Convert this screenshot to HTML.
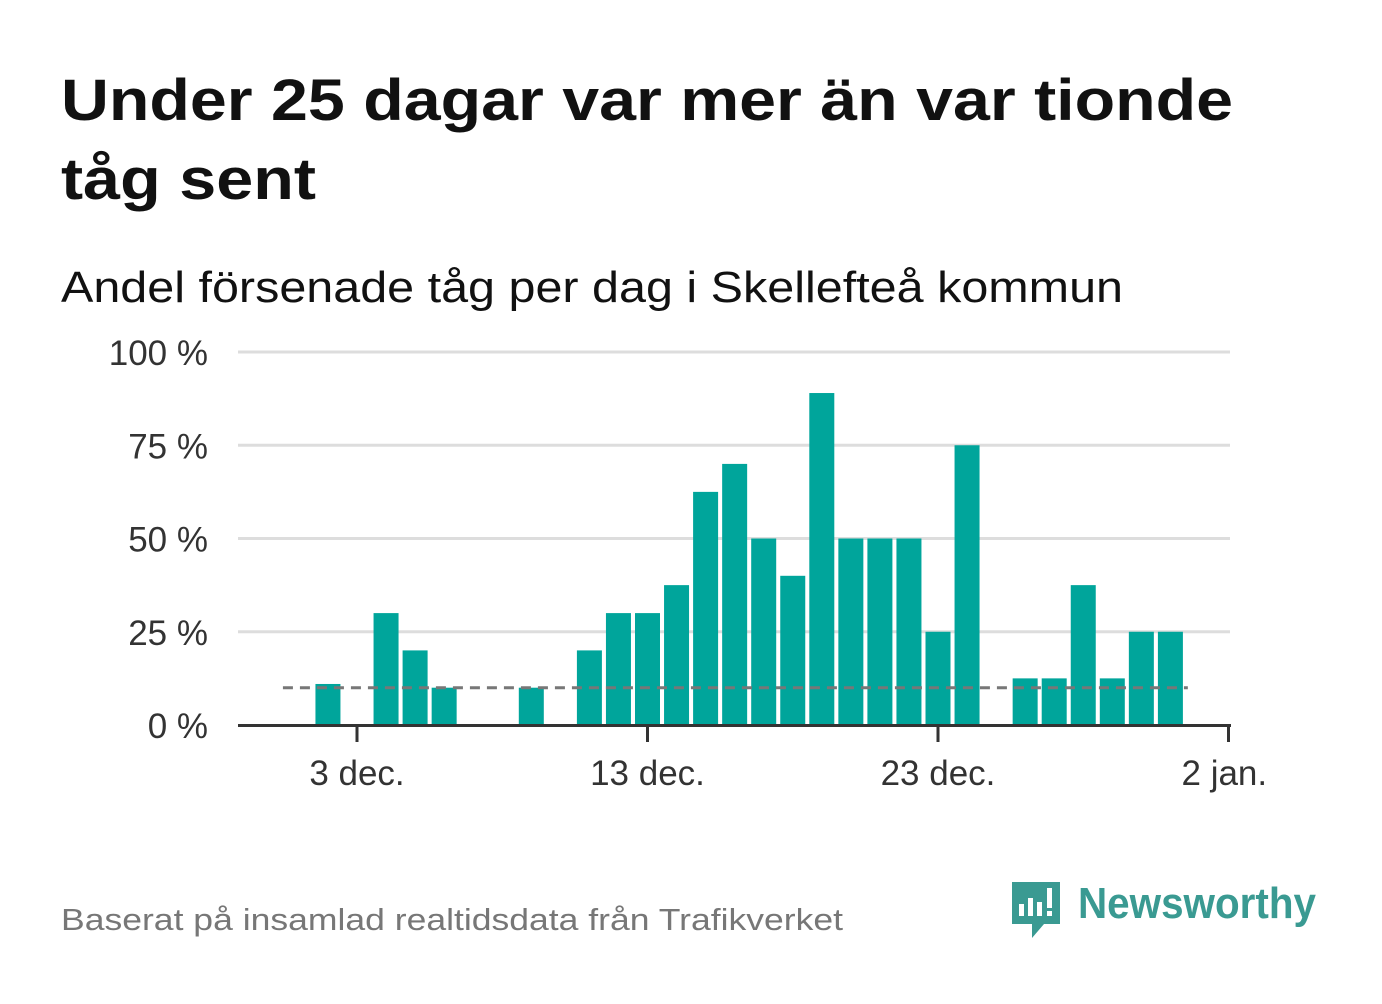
<!DOCTYPE html>
<html><head><meta charset="utf-8"><style>
body{margin:0;background:#fff;width:1382px;height:999px;overflow:hidden;font-family:"Liberation Sans",sans-serif;}
</style></head><body>
<svg width="1382" height="999">
<text x="61" y="120" font-size="58" font-weight="bold" fill="#111" textLength="1172" lengthAdjust="spacingAndGlyphs">Under 25 dagar var mer än var tionde</text>
<text x="61" y="199" font-size="58" font-weight="bold" fill="#111" textLength="255" lengthAdjust="spacingAndGlyphs">tåg sent</text>
<text x="61" y="302" font-size="44" fill="#111" textLength="1062" lengthAdjust="spacingAndGlyphs">Andel försenade tåg per dag i Skellefteå kommun</text>
<g id="grid"></g><g id="bars"></g><g id="axis"></g>
<text x="61" y="930" font-size="31" fill="#777" textLength="782" lengthAdjust="spacingAndGlyphs">Baserat på insamlad realtidsdata från Trafikverket</text>
<g>
<path d="M1012 882h48v42h-16l-12 14v-14h-20z" fill="#3a9a92"/>
<rect x="1019" y="904" width="5" height="12" fill="#fff"/><rect x="1028" y="898" width="5" height="18" fill="#fff"/><rect x="1037" y="902" width="5" height="14" fill="#fff"/><rect x="1047" y="888" width="5" height="20" fill="#fff"/><rect x="1047" y="911" width="5" height="5" fill="#fff"/>
<text x="1078" y="918" font-size="44" font-weight="bold" fill="#3a9a92" textLength="238" lengthAdjust="spacingAndGlyphs">Newsworthy</text>
</g>
</svg>
<script>
const days=[2,4,5,6,9,11,12,13,14,15,16,17,18,19,20,21,22,23,24,26,27,28,29,30,31];
const values=[11,30,20,10,10,20,30,30,37.5,62.5,70,50,40,89,50,50,50,25,75,12.5,12.5,37.5,12.5,25,25];
const yTicks=[0,25,50,75,100];
const xTickDays=[3,13,23,33];
const xTickLabels=["3 dec.","13 dec.","23 dec.","2 jan."];
const refValue=10;
const refStart=0.45, refEnd=31.6;
const NS="http://www.w3.org/2000/svg";
const x=d=>357+(d-3)*29.05;
const y=v=>725-v*3.73;
function mk(p,tag,attrs){const e=document.createElementNS(NS,tag);for(const k in attrs)e.setAttribute(k,attrs[k]);document.getElementById(p).appendChild(e);return e;}
yTicks.forEach(t=>{
 if(t>0){const l=mk('grid','line',{x1:238,x2:1230,y1:y(t),y2:y(t),stroke:'#ddd','stroke-width':3});
 
 }
 const tx=mk('grid','text',{x:208,y:y(t)+13,'font-size':35,fill:'#333','text-anchor':'end'});
 tx.textContent=t+' %';
 
 
});
days.forEach((d,i)=>{
 const r=mk('bars','rect',{x:x(d)-12.5,y:y(values[i]),width:25,height:725-y(values[i]),fill:'#00a59b'});
 
 
});
const ref=mk('bars','line',{x1:x(refStart),x2:x(refEnd),y1:y(refValue),y2:y(refValue),stroke:'#777','stroke-width':3,'stroke-dasharray':'10,7'});


const ax=mk('axis','line',{x1:238,x2:1231,y1:725.5,y2:725.5,stroke:'#333','stroke-width':3});


xTickDays.forEach((d,i)=>{
 const tk=mk('axis','line',{x1:x(d),x2:x(d),y1:725,y2:742,stroke:'#333','stroke-width':3});
 
 
 const tx=mk('axis','text',{x:x(d),y:785,'font-size':35,fill:'#333','text-anchor':i===3?'start':'middle'});
 if(i===3)tx.setAttribute('x',x(d)-47);
 tx.textContent=xTickLabels[i];
 
 
});
</script>
</body></html>
